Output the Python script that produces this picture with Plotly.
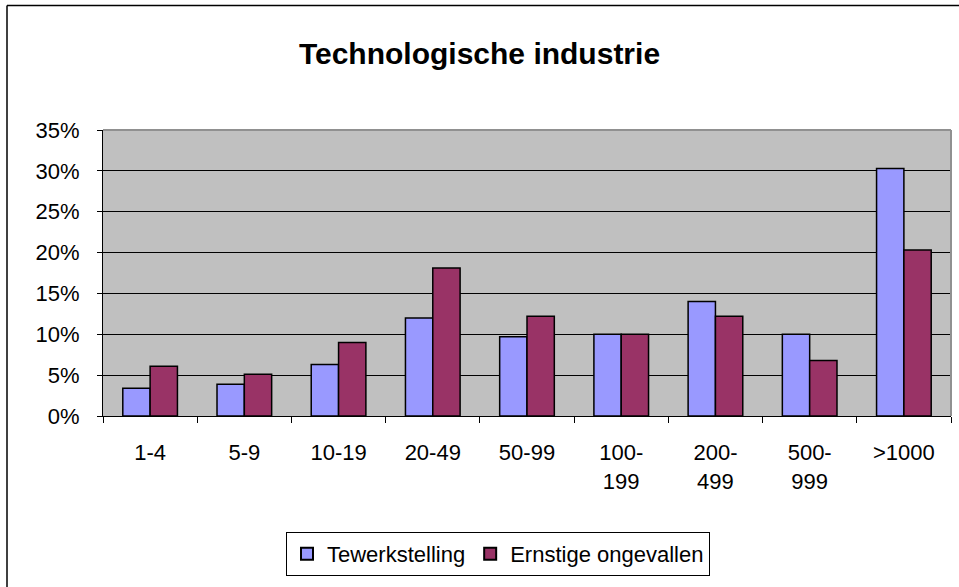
import plotly.graph_objects as go

categories = ["1-4", "5-9", "10-19", "20-49", "50-99", "100-<br>199", "200-<br>499", "500-<br>999", ">1000"]
tewerkstelling = [0.034, 0.039, 0.063, 0.120, 0.097, 0.100, 0.140, 0.100, 0.303]
ernstige_ongevallen = [0.061, 0.051, 0.090, 0.181, 0.122, 0.100, 0.122, 0.068, 0.203]
series_names = ["Tewerkstelling", "Ernstige ongevallen"]
y_tickvals = [0, 0.05, 0.10, 0.15, 0.20, 0.25, 0.30, 0.35]

W, H = 959, 587
L, R, T, B = 103, 8, 130, 171
pw, ph = W - L - R, H - T - B

def px_x(x):
    return (x - L) / pw

def px_y(y):
    return (H - B - y) / ph

font = "Liberation Sans, Arial, sans-serif"

fig = go.Figure()
fig.add_trace(go.Bar(x=categories, y=tewerkstelling, name=series_names[0],
                     marker=dict(color="#9999FF", line=dict(color="black", width=1.5))))
fig.add_trace(go.Bar(x=categories, y=ernstige_ongevallen, name=series_names[1],
                     marker=dict(color="#993366", line=dict(color="black", width=1.5))))

fig.update_layout(
    width=W, height=H,
    margin=dict(l=L, r=R, t=T, b=B, autoexpand=False),
    paper_bgcolor="white",
    plot_bgcolor="#C0C0C0",
    font=dict(family=font, color="black", size=22),
    title=dict(text="<b>Technologische industrie</b>", x=0.5, xanchor="center",
               y=1 - 53 / H, yanchor="middle", font=dict(size=30, family=font, color="black")),
    barmode="group", bargap=0.42, bargroupgap=0,
    showlegend=True,
    legend=dict(orientation="h", x=px_x(498), xanchor="center", y=px_y(532), yanchor="top",
                bordercolor="black", borderwidth=1, bgcolor="white",
                font=dict(size=22, family=font), itemsizing="constant",
                tracegroupgap=0, itemwidth=30),
    xaxis=dict(type="category", showline=True, linecolor="black", linewidth=1,
               ticks="outside", tickson="boundaries", ticklen=6, tickcolor="black",
               showgrid=False, tickfont=dict(size=22), ticklabelstandoff=17),
    yaxis=dict(range=[0, 0.35], tickvals=y_tickvals, tickformat=".0%",
               showline=True, linecolor="black", linewidth=1,
               ticks="outside", ticklen=5, tickcolor="black",
               showgrid=True, gridcolor="black", gridwidth=1,
               zeroline=False, tickfont=dict(size=22), ticklabelstandoff=13),
    shapes=[
        dict(type="line", xref="paper", yref="paper", x0=0, x1=1, y0=1, y1=1,
             line=dict(color="#909090", width=2)),
        dict(type="line", xref="paper", yref="paper", x0=1, x1=1, y0=0, y1=1,
             line=dict(color="#909090", width=2)),
        dict(type="line", xref="paper", yref="paper", x0=px_x(7), x1=px_x(W + 5),
             y0=px_y(5.5), y1=px_y(5.5), line=dict(color="black", width=1.5)),
        dict(type="line", xref="paper", yref="paper", x0=px_x(7), x1=px_x(7),
             y0=px_y(5.5), y1=px_y(H + 5), line=dict(color="black", width=1.5)),
    ],
)

fig.write_html("out.html", config={"displayModeBar": False},
               post_script="document.body.style.margin='0';")
